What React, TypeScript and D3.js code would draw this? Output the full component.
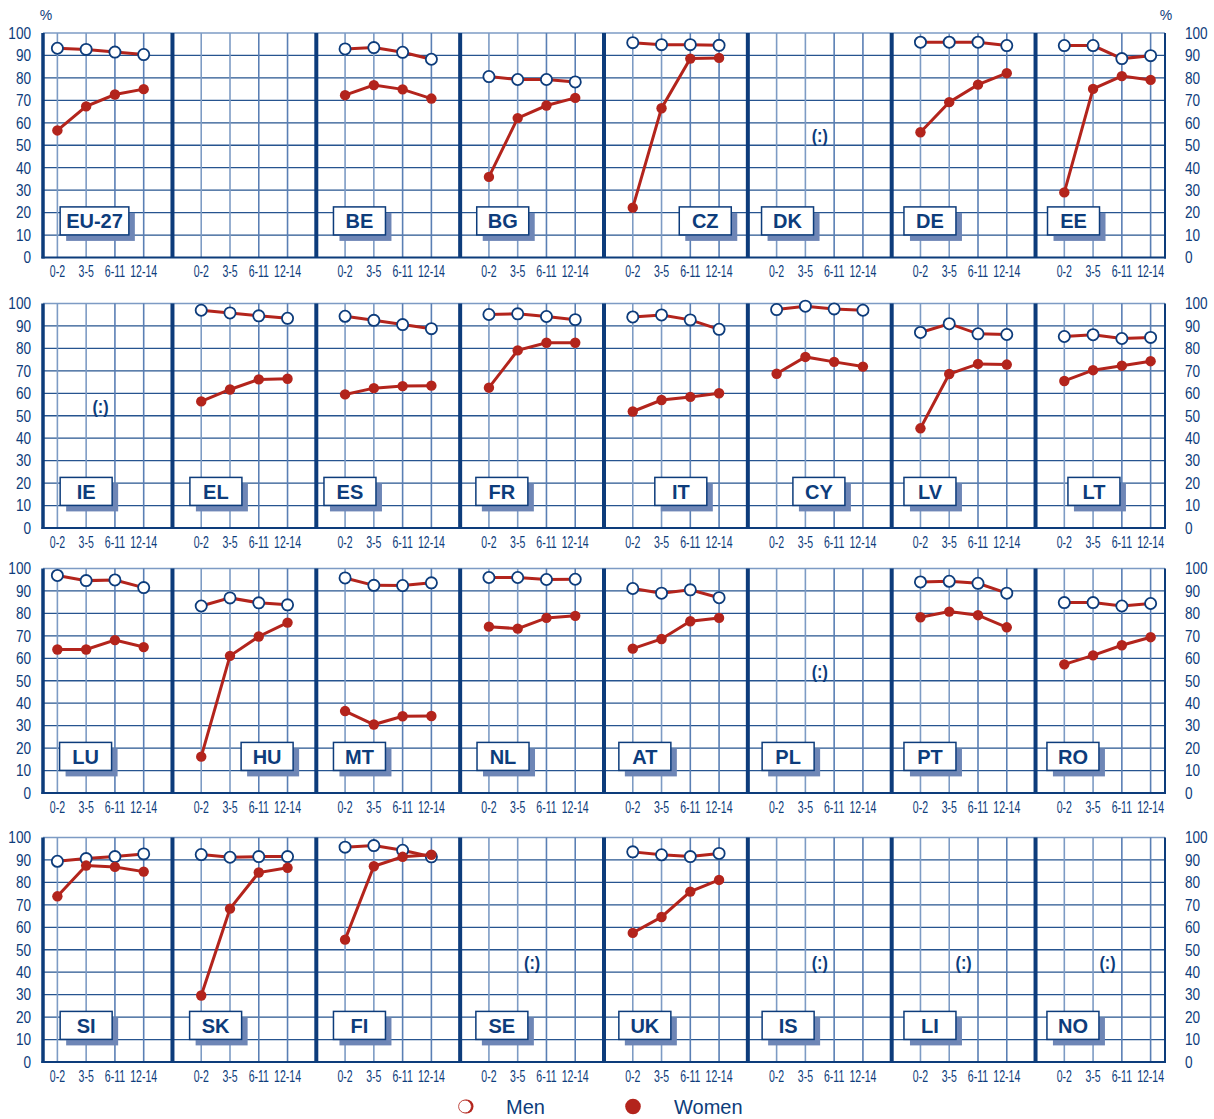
import React, { useEffect, useRef } from 'react';
import * as d3 from 'd3';

// age groups of the youngest child (x categories)
const ageGroups = ['0-2', '3-5', '6-11', '12-14'];
const yTicks = [0, 10, 20, 30, 40, 50, 60, 70, 80, 90, 100];

// panels, row by row (8 per row); '' is the blank panel
const countries = [
   'EU-27', '', 'BE', 'BG', 'CZ', 'DK', 'DE', 'EE',
   'IE', 'EL', 'ES', 'FR', 'IT', 'CY', 'LV', 'LT',
   'LU', 'HU', 'MT', 'NL', 'AT', 'PL', 'PT', 'RO',
   'SI', 'SK', 'FI', 'SE', 'UK', 'IS', 'LI', 'NO',
];

// countries with no data, shown as (:)
const notAvailable = ['DK', 'IE', 'PL', 'SE', 'IS', 'LI', 'NO'];

// employment rate (%) of men, same order as countries
const men: (number[] | null)[] = [
   [93.2, 92.7, 91.5, 90.4], null, [92.9, 93.5, 91.4, 88.3], [80.6, 79.3, 79.3, 78.2],
   [95.7, 94.8, 94.8, 94.5], null, [95.9, 95.9, 95.9, 94.4], [94.4, 94.4, 88.6, 89.9],
   null, [97.0, 95.8, 94.5, 93.4], [94.3, 92.5, 90.6, 88.8], [95.1, 95.4, 94.2, 92.8],
   [94.0, 94.9, 92.7, 88.5], [97.3, 98.8, 97.6, 97.0], [87.1, 91.0, 86.5, 86.2], [85.3, 86.1, 84.4, 84.9],
   [96.9, 94.6, 94.9, 91.5], [83.3, 86.9, 84.7, 83.8], [95.8, 92.5, 92.4, 93.6], [96.0, 96.0, 95.1, 95.2],
   [91.1, 89.0, 90.5, 87.0], null, [94.0, 94.3, 93.4, 89.0], [84.8, 84.8, 83.3, 84.4],
   [89.4, 90.6, 91.5, 92.7], [92.4, 91.2, 91.5, 91.5], [95.7, 96.4, 94.3, 91.4], null,
   [93.6, 92.3, 91.5, 92.9], null, null, null,
];

// employment rate (%) of women, same order as countries
const women: (number[] | null)[] = [
   [56.6, 67.3, 72.6, 75.0], null, [72.3, 76.8, 74.9, 70.8], [35.9, 62.1, 67.7, 71.1],
   [22.2, 66.5, 88.6, 88.9], null, [55.8, 69.2, 77.0, 82.1], [29.0, 75.1, 80.8, 79.1],
   null, [56.4, 61.7, 66.2, 66.5], [59.5, 62.3, 63.2, 63.4], [62.5, 79.1, 82.5, 82.5],
   [51.9, 57.0, 58.4, 60.0], [68.7, 76.2, 74.0, 71.9], [44.4, 68.6, 73.1, 72.8], [65.5, 70.3, 72.3, 74.3],
   [63.9, 63.9, 68.1, 65.0], [16.2, 61.1, 69.7, 75.9], [36.5, 30.5, 34.2, 34.3], [74.1, 73.2, 78.0, 78.9],
   [64.3, 68.6, 76.5, 78.0], null, [78.3, 80.8, 79.2, 73.8], [57.3, 61.3, 65.8, 69.4],
   [73.8, 87.5, 86.9, 84.8], [29.6, 68.3, 84.4, 86.5], [54.5, 87.2, 91.4, 92.3], null,
   [57.5, 64.6, 75.9, 81.1], null, null, null,
];

// layout: centre of the country box, in grid cells from the first age point
const labelOffset = [
   1.29, 0, 0.5, 0.48, 2.52, 0.38, 0.33, 0.32,
   1.0, 0.51, 0.17, 0.45, 1.67, 1.47, 0.33, 1.03,
   0.98, 2.29, 0.5, 0.49, 0.42, 0.4, 0.33, 0.3,
   1.0, 0.5, 0.5, 0.45, 0.42, 0.4, 0.33, 0.3,
];

const W = 1214;
const H = 1119;
const NAVY = '#0d3c7b';
const GRID_DARK = '#26548f';
const GRID_LIGHT = '#7d9bc4';
const RED = '#b3241c';
const SHADOW = '#6e86b6';
const FONT = '"Liberation Sans", Arial, sans-serif';

const App: React.FC = () => {
   const svgRef = useRef<SVGSVGElement | null>(null);

   useEffect(() => {
      if (!svgRef.current) return;
      const svg = d3.select(svgRef.current);
      svg.selectAll('*').remove();

      const left = 43;
      const right = 1165;
      // 39 grid cells across: half cell at the outer ends, 5 per panel
      const xCell = d3.scaleLinear().domain([0, 39]).range([left, right]);
      const rowTops = [33, 303.5, 568.5, 837.5];
      const rowH = 224.5;

      rowTops.forEach((top, r) => {
         const y = d3.scaleLinear().domain([0, 100]).range([top + rowH, top]);
         const g = svg.append('g');

         // horizontal grid
         g.selectAll('.hgrid')
            .data(yTicks.filter(t => t > 0 && t < 100))
            .enter()
            .append('line')
            .attr('x1', left).attr('x2', right)
            .attr('y1', d => y(d)).attr('y2', d => y(d))
            .attr('stroke', GRID_DARK)
            .attr('stroke-width', 1.3);
         g.append('line')
            .attr('x1', left).attr('x2', right)
            .attr('y1', y(100)).attr('y2', y(100))
            .attr('stroke', GRID_LIGHT)
            .attr('stroke-width', 1.6);

         // vertical grid at every age point
         for (let p = 0; p < 8; p++) {
            const xp = d3.scalePoint<string>()
               .domain(ageGroups)
               .range([xCell(0.5 + 5 * p), xCell(3.5 + 5 * p)]);
            g.selectAll(`.vgrid${p}`)
               .data(ageGroups)
               .enter()
               .append('line')
               .attr('x1', d => xp(d)!).attr('x2', d => xp(d)!)
               .attr('y1', y(0)).attr('y2', y(100))
               .attr('stroke', (d, i) => (i < 2 ? GRID_LIGHT : '#5a7fb4'))
               .attr('stroke-width', 1.6);

            // x labels, squeezed to look condensed
            g.selectAll(`.xlab${p}`)
               .data(ageGroups)
               .enter()
               .append('text')
               .attr('transform', d => `translate(${xp(d)},${y(0) + 19.5}) scale(0.62,1)`)
               .attr('text-anchor', 'middle')
               .attr('font-family', FONT)
               .attr('font-size', 17)
               .attr('fill', NAVY)
               .text(d => d);
         }

         // bottom axis
         g.append('line')
            .attr('x1', left - 1.5).attr('x2', right + 1)
            .attr('y1', y(0)).attr('y2', y(0))
            .attr('stroke', NAVY)
            .attr('stroke-width', 2.2);

         // panel separators
         g.selectAll('.sep')
            .data(d3.range(1, 8))
            .enter()
            .append('line')
            .attr('x1', p => xCell(5 * p - 0.5)).attr('x2', p => xCell(5 * p - 0.5))
            .attr('y1', y(100)).attr('y2', y(0))
            .attr('stroke', NAVY)
            .attr('stroke-width', 4);
         g.append('line')
            .attr('x1', left).attr('x2', left)
            .attr('y1', y(100)).attr('y2', y(0) + 1)
            .attr('stroke', NAVY)
            .attr('stroke-width', 3.5);
         g.append('line')
            .attr('x1', right).attr('x2', right)
            .attr('y1', y(100)).attr('y2', y(0) + 1)
            .attr('stroke', NAVY)
            .attr('stroke-width', 2);

         // y labels both sides
         g.selectAll('.ylabL')
            .data(yTicks)
            .enter()
            .append('text')
            .attr('transform', d => `translate(31,${y(d) + 5.8}) scale(0.85,1)`)
            .attr('text-anchor', 'end')
            .attr('font-family', FONT)
            .attr('font-size', 16)
            .attr('fill', NAVY)
            .text(d => d);
         g.selectAll('.ylabR')
            .data(yTicks)
            .enter()
            .append('text')
            .attr('transform', d => `translate(1185,${y(d) + 5.8}) scale(0.85,1)`)
            .attr('text-anchor', 'start')
            .attr('font-family', FONT)
            .attr('font-size', 16)
            .attr('fill', NAVY)
            .text(d => d);

         if (r === 0) {
            [46, 1166].forEach(px => {
               svg.append('text')
                  .attr('x', px).attr('y', 20)
                  .attr('text-anchor', 'middle')
                  .attr('font-family', FONT)
                  .attr('font-size', 14)
                  .attr('fill', NAVY)
                  .text('%');
            });
         }

         // panels
         for (let p = 0; p < 8; p++) {
            const k = r * 8 + p;
            const name = countries[k];
            if (!name) continue;
            const xp = d3.scalePoint<string>()
               .domain(ageGroups)
               .range([xCell(0.5 + 5 * p), xCell(3.5 + 5 * p)]);
            const pg = svg.append('g');

            // country box with shadow
            const cx = xCell(0.5 + 5 * p + labelOffset[k]);
            const cy = y(16.3);
            const txt = pg.append('text')
               .attr('x', cx).attr('y', cy + 7.2)
               .attr('text-anchor', 'middle')
               .attr('font-family', FONT)
               .attr('font-weight', 'bold')
               .attr('font-size', 20)
               .attr('fill', NAVY)
               .text(name);
            const tw = (txt.node() as SVGTextElement).getComputedTextLength();
            const bw = Math.max(52, tw + 12);
            const bh = 28;
            pg.insert('rect', 'text')
               .attr('x', cx - bw / 2 + 6).attr('y', cy - bh / 2 + 6)
               .attr('width', bw).attr('height', bh)
               .attr('fill', SHADOW);
            pg.insert('rect', 'text')
               .attr('x', cx - bw / 2).attr('y', cy - bh / 2)
               .attr('width', bw).attr('height', bh)
               .attr('fill', 'white')
               .attr('stroke', NAVY)
               .attr('stroke-width', 1.5);

            if (notAvailable.includes(name)) {
               pg.append('text')
                  .attr('transform', `translate(${xCell(0.5 + 5 * p + 1.5)},${y(r === 3 ? 44 : 54) + 6}) scale(0.9,1)`)
                  .attr('text-anchor', 'middle')
                  .attr('font-family', FONT)
                  .attr('font-size', 18)
                  .attr('font-weight', 'bold')
                  .attr('fill', NAVY)
                  .text('(:)');
               continue;
            }

            const line = d3.line<number>()
               .x((_, i) => xp(ageGroups[i])!)
               .y(d => y(d));

            const m = men[k]!;
            const w = women[k]!;

            pg.append('path')
               .attr('d', line(m)!)
               .attr('fill', 'none')
               .attr('stroke', RED)
               .attr('stroke-width', 3);
            pg.selectAll('.men')
               .data(m)
               .enter()
               .append('circle')
               .attr('cx', (_, i) => xp(ageGroups[i])!)
               .attr('cy', d => y(d))
               .attr('r', 5.6)
               .attr('fill', 'white')
               .attr('stroke', NAVY)
               .attr('stroke-width', 1.8);

            pg.append('path')
               .attr('d', line(w)!)
               .attr('fill', 'none')
               .attr('stroke', RED)
               .attr('stroke-width', 3);
            pg.selectAll('.women')
               .data(w)
               .enter()
               .append('circle')
               .attr('cx', (_, i) => xp(ageGroups[i])!)
               .attr('cy', d => y(d))
               .attr('r', 5.2)
               .attr('fill', RED);
         }
      });

      // legend
      const lg = svg.append('g');
      const ly = 1106.5;
      lg.append('circle').attr('cx', 466.5).attr('cy', ly).attr('r', 7).attr('fill', RED);
      lg.append('circle').attr('cx', 465).attr('cy', ly).attr('r', 6.4)
         .attr('fill', 'white').attr('stroke', RED).attr('stroke-width', 0.8);
      lg.append('text')
         .attr('x', 506).attr('y', ly + 7.5)
         .attr('font-family', FONT).attr('font-size', 20).attr('fill', NAVY)
         .text('Men');
      lg.append('circle').attr('cx', 633).attr('cy', ly).attr('r', 7.8).attr('fill', RED);
      lg.append('text')
         .attr('x', 674).attr('y', ly + 7.5)
         .attr('font-family', FONT).attr('font-size', 20).attr('fill', NAVY)
         .text('Women');
   }, []);

   return (
      <svg
         ref={svgRef}
         width={W}
         height={H}
         viewBox={`0 0 ${W} ${H}`}
         style={{ position: 'absolute', left: 0, top: 0, background: 'white' }}
      />
   );
};

export default App;
